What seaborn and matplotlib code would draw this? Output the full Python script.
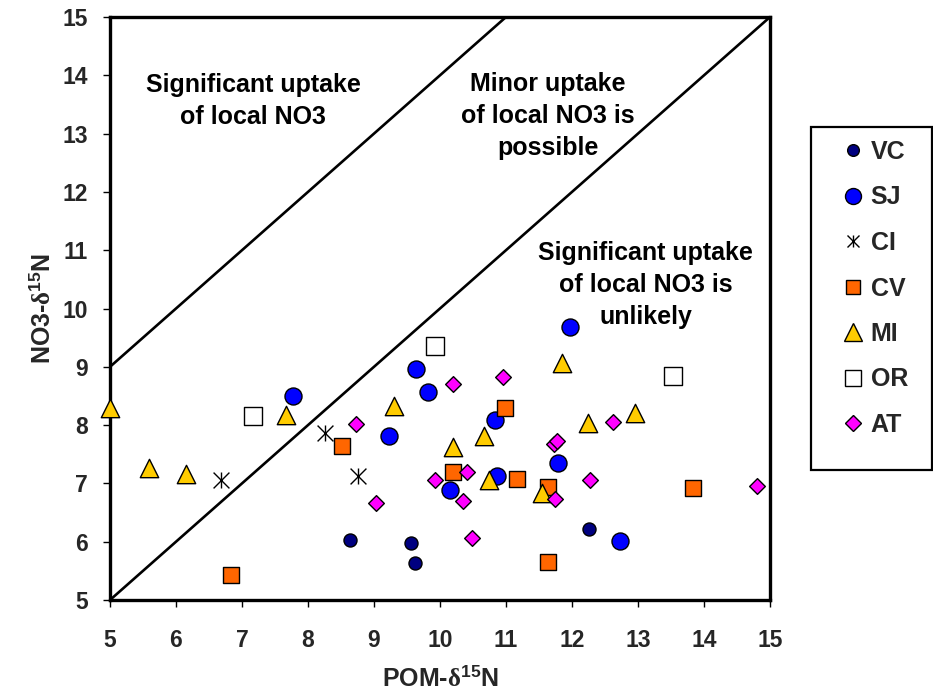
import matplotlib
matplotlib.use('Agg')
import matplotlib.pyplot as plt
import seaborn as sns
import numpy as np
from matplotlib.lines import Line2D
from matplotlib.patches import Rectangle
from matplotlib.legend_handler import HandlerTuple

sns.set_theme(style='white')
plt.rcParams['font.family'] = ['Liberation Sans', 'DejaVu Sans']
plt.rcParams['font.weight'] = 'bold'
plt.rcParams['mathtext.fontset'] = 'custom'
plt.rcParams['mathtext.rm'] = 'Liberation Sans:bold'
plt.rcParams['mathtext.bf'] = 'Liberation Sans:bold'
plt.rcParams['mathtext.sf'] = 'Liberation Serif'
plt.rcParams['mathtext.it'] = 'Liberation Serif'

# ---- data ----
vc_x = [8.64, 9.56, 9.62, 12.25]
vc_y = [6.03, 5.98, 5.63, 6.22]

sj_x = [7.78, 9.64, 9.82, 9.22, 10.84, 10.86, 10.15, 11.97, 11.79, 12.72]
sj_y = [8.50, 8.97, 8.56, 7.82, 8.08, 7.12, 6.89, 9.68, 7.35, 6.01]

ci_x = [6.68, 8.25, 8.75]
ci_y = [7.05, 7.86, 7.12]

cv_x = [6.83, 8.51, 10.99, 10.19, 11.17, 11.64, 11.63, 13.83]
cv_y = [5.43, 7.64, 8.29, 7.20, 7.08, 6.93, 5.66, 6.92]

mi_x = [5.00, 5.59, 6.15, 7.66, 9.31, 10.20, 10.67, 10.74, 11.55, 11.85, 12.24, 12.95]
mi_y = [8.29, 7.26, 7.16, 8.17, 8.33, 7.62, 7.81, 7.06, 6.84, 9.06, 8.03, 8.20]

or_x = [7.16, 9.92, 13.53]
or_y = [8.16, 9.36, 8.84]

at_x = [8.72, 9.03, 9.93, 10.19, 10.41, 10.35, 10.49, 10.96, 11.73, 11.78, 11.74, 12.27, 12.62, 14.81]
at_y = [8.02, 6.66, 7.06, 8.70, 7.20, 6.69, 6.06, 8.82, 7.68, 7.72, 6.73, 7.05, 8.05, 6.95]

guide_offsets = [4, 0]          # y = x + offset
axis_range = [5, 15]
ticks = list(range(5, 16))

annotations = [
    ("Significant uptake\nof local NO3", 7.17, 13.56),
    ("Minor uptake\nof local NO3 is\npossible", 11.64, 13.30),
    ("Significant uptake\nof local NO3 is\nunlikely", 13.12, 10.40),
]
labels = ['VC', 'SJ', 'CI', 'CV', 'MI', 'OR', 'AT']

# ---- figure ----
fig = plt.figure(figsize=(9.33, 6.92), dpi=100)
ax = fig.add_axes([110/933, 1-600/692, 660/933, 583/692])
ax.set_facecolor('white')

for off in guide_offsets:
    xs = np.clip(np.array(axis_range, dtype=float), axis_range[0], axis_range[1] - off)
    ax.plot(xs, xs + off, color='black', lw=1.9, zorder=2, solid_capstyle='butt')

common = dict(ax=ax, edgecolor='black', linewidth=1.0, zorder=3, clip_on=False, legend=False)
sns.scatterplot(x=vc_x, y=vc_y, marker='o', s=88, color='#000080', **common)
sns.scatterplot(x=sj_x, y=sj_y, marker='o', s=150, color='#0000FF', **common)
sns.scatterplot(x=ci_x, y=ci_y, marker='x', s=130, color='black', ax=ax, linewidth=1.0, zorder=3, legend=False)
sns.scatterplot(x=ci_x, y=ci_y, marker='|', s=130, color='black', ax=ax, linewidth=1.0, zorder=3, legend=False)
sns.scatterplot(x=cv_x, y=cv_y, marker='s', s=117, color='#FF6600', **common)
sns.scatterplot(x=mi_x, y=mi_y, marker='^', s=175, color='#FFCC00', **common)
sns.scatterplot(x=or_x, y=or_y, marker='s', s=187, color='white', **common)
sns.scatterplot(x=at_x, y=at_y, marker='D', s=64, color='#FF00FF', **common)

for txt, tx, ty in annotations:
    ax.text(tx, ty, txt, ha='center', va='center', fontsize=18, fontweight='bold',
            linespacing=1.42, color='black', zorder=4)

ax.set_xlim(axis_range)
ax.set_ylim(axis_range)
ax.set_xticks(ticks)
ax.set_yticks(ticks)
ax.tick_params(axis='both', direction='out', length=5, width=1, color='black',
               labelsize=16.5, bottom=True, left=True)
ax.tick_params(axis='x', pad=16)
ax.tick_params(axis='y', pad=11)
for lab in ax.get_xticklabels() + ax.get_yticklabels():
    lab.set_fontweight('bold')
for sp in ax.spines.values():
    sp.set_visible(True)
    sp.set_color('black')
    sp.set_linewidth(2.4)

ax.set_xlabel(r'POM-$\mathsf{\delta}^{\mathbf{15}}$N', fontsize=18, fontweight='bold', labelpad=10)
ax.set_ylabel(r'NO3-$\mathsf{\delta}^{\mathbf{15}}$N', fontsize=18, fontweight='bold', labelpad=5)

def mk(marker, size, fc):
    return Line2D([], [], linestyle='none', marker=marker, markersize=size,
                  markerfacecolor=fc, markeredgecolor='black', markeredgewidth=1.0)

handles = [
    mk('o', 8.4, '#000080'),
    mk('o', 11.5, '#0000FF'),
    (Line2D([], [], linestyle='none', marker='x', markersize=8.5, color='black', markeredgewidth=1.0),
     Line2D([], [], linestyle='none', marker='|', markersize=8.5, color='black', markeredgewidth=1.0)),
    mk('s', 10.5, '#FF6600'),
    mk('^', 13, '#FFCC00'),
    mk('s', 11.5, 'white'),
    mk('D', 8.2, '#FF00FF'),
]

# legend frame (drawn as a figure rectangle)
fig.patches.append(Rectangle((811/933, 1-470/692), 120.5/933, 343/692,
                             transform=fig.transFigure, fill=False,
                             edgecolor='black', linewidth=1.6, zorder=5))
leg = fig.legend(handles, labels, loc='upper left', bbox_to_anchor=(840.5/933, 1-140/692),
                 handler_map={tuple: HandlerTuple(ndivide=1)},
                 frameon=False, fontsize=18,
                 labelspacing=0.86, borderpad=0, handlelength=1.0, handletextpad=0.2,
                 borderaxespad=0)
for t in leg.get_texts():
    t.set_fontweight('bold')

fig.savefig('out.png', dpi=100)
